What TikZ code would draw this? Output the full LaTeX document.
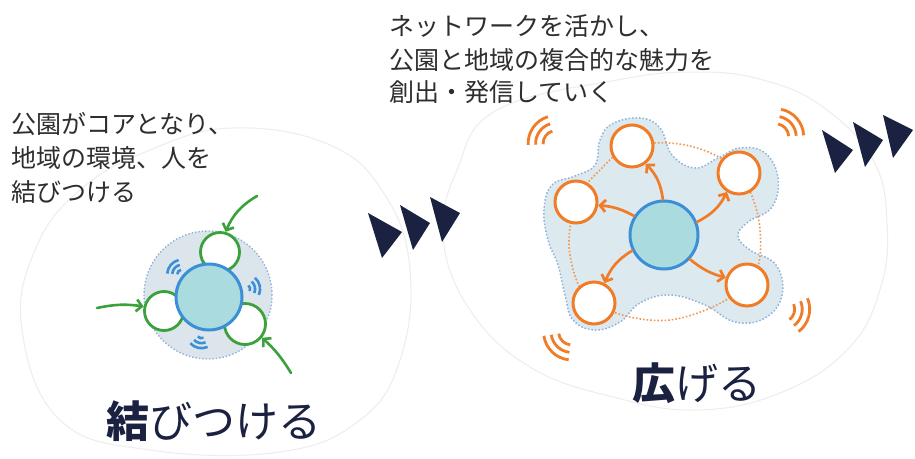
\documentclass[tikz,border=0pt]{standalone}
\usepackage{fontspec}
\newfontfamily\jp{Noto Sans CJK JP}
\usetikzlibrary{arrows.meta}
\definecolor{txt}{HTML}{2E2E2E}
\definecolor{navy}{HTML}{1B2140}
\definecolor{gr}{HTML}{3AA13C}
\definecolor{bl}{HTML}{3B8FD6}
\definecolor{blfill}{HTML}{A9DBDF}
\definecolor{halo}{HTML}{DDE5EC}
\definecolor{halodot}{HTML}{8FB1DD}
\definecolor{blobfill}{HTML}{DCE9EF}
\definecolor{org}{HTML}{F07C28}
\definecolor{faint}{HTML}{EDEDED}
\newcommand\wavesig[6]{%
  \foreach \rr in {#5}
    \draw[#4] ([shift={(#3-#6:\rr)}]#1,#2) arc[start angle=#3-#6, end angle=#3+#6, radius=\rr];}
\begin{document}
\begin{tikzpicture}[x=1pt,y=-1pt,
  body/.style={font=\jp\fontsize{25}{30}\selectfont, text=txt, inner sep=0, anchor=base west},
  title/.style={font=\jp\fontsize{43}{50}\selectfont, text=navy, inner sep=0},
  gcirc/.style={circle, draw=gr, line width=2.8pt, fill=white, minimum size=39pt, inner sep=0},
  bcirc/.style={circle, draw=bl, line width=3pt, fill=blfill, minimum size=66pt, inner sep=0},
  ocirc/.style={circle, draw=org, line width=3pt, fill=white, minimum size=42pt, inner sep=0},
  garrow/.style={draw=gr, line width=2.6pt, line cap=round, -{Straight Barb[length=5.5pt,width=12pt]}},
  oarrow/.style={draw=org, line width=2.7pt, line cap=round, -{Straight Barb[length=5.5pt,width=12pt]}},
  bwave/.style={draw=bl, line width=2.6pt},
  owave/.style={draw=org, line width=2.8pt},
  tri/.style={fill=navy},
  outline/.style={draw=faint, line width=1pt}
]
\useasboundingbox (0,0) rectangle (915,458);
\fill[white] (0,0) rectangle (915,458);

% faint background outlines
\draw[outline] plot[smooth cycle, tension=0.7] coordinates {(233,128) (330,145) (385,195) (410,270) (400,360) (360,420) (280,452) (150,450) (60,420) (22,330) (35,250) (80,190) (150,150)};
\draw[outline] plot[smooth cycle, tension=0.7] coordinates {(497,110) (617,80) (697,72) (763,80) (823,107) (873,160) (887,223) (880,290) (847,350) (780,393) (697,410) (613,397) (530,367) (470,310) (443,237) (457,170)};

% texts
\node[body] (l1) at (11,133) {公園がコアとなり、};
\node[body] (l2) at (11,167.5) {地域の環境、人を};
\node[body] (l3) at (11,201.5) {結びつける};
\node[body] (r1) at (389,35) {ネットワークを活かし、};
\node[body] (r2) at (389,69) {公園と地域の複合的な魅力を};
\node[body] (r3) at (389,101.5) {創出・発信していく};

\node[title] (tl) at (214,421) {{\bfseries 結}びつける};
\node[title] (tr) at (697,383) {{\bfseries 広}げる};

% triangles
\fill[tri] (368,213) -- (402,232) -- (382,258) -- cycle;
\fill[tri] (400,205) -- (430,223) -- (413,250) -- cycle;
\fill[tri] (430,197) -- (460,213) -- (442,242) -- cycle;
\fill[tri] (822,130) -- (853,150) -- (835,173) -- cycle;
\fill[tri] (853,122) -- (883,140) -- (865,167) -- cycle;
\fill[tri] (883,115) -- (913,130) -- (893,158) -- cycle;

% ---------- left diagram ----------
\node[circle, fill=halo, draw=halodot, dotted, line width=1.4pt, minimum size=128pt, inner sep=0] (halo) at (208,295) {};
\wavesig{182.2}{274.6}{-140}{bwave}{5,10,15}{36}
\wavesig{245.1}{289.1}{-13}{bwave}{5,10,15}{36}
\wavesig{201.5}{333.2}{102}{bwave}{5,10,15}{36}
\node[gcirc] (g1) at (220,252) {};
\node[gcirc] (g2) at (164,311) {};
\node[gcirc, minimum size=41pt] (g3) at (245,324) {};
\node[bcirc] (bl) at (209,297) {};
\coordinate (ga) at (257,196);
\coordinate (gb) at (97,308);
\coordinate (gc) at (291,373);
\draw[garrow] (ga) to[bend right=18] (g1);
\draw[garrow] (gb) to[bend left=10] (g2);
\draw[garrow] (gc) to[bend right=8] (g3);

% ---------- right diagram ----------
\def\blobpts{(600,140) (612,124) (640,118) (660,128) (672,155) (695,168) (718,158) (740,148) (765,153) (778,178) (772,207) (748,222) (738,236) (750,250) (776,265) (782,295) (765,318) (735,322) (705,305) (670,295) (640,303) (620,322) (595,330) (573,320) (565,295) (558,265) (548,240) (544,210) (552,185) (575,176) (595,165)}
\fill[blobfill] plot[smooth cycle, tension=0.7] coordinates {\blobpts};
\draw[halodot, dotted, line width=1.5pt] plot[smooth cycle, tension=0.7] coordinates {\blobpts};
\draw[org!80, dotted, line width=1.6pt] plot[smooth cycle, tension=0.6] coordinates {(632,146) (690,146) (739,173) (760,230) (747,285) (670,320) (594,303) (570,255) (576,202) (600,170)};

\wavesig{556.1}{143.5}{-145}{owave}{13,20.5,28}{38}
\wavesig{775.7}{136.8}{-41}{owave}{13,20.5,28}{38}
\wavesig{781.7}{309.2}{15}{owave}{13,20.5,28}{38}
\wavesig{571.6}{331.9}{134}{owave}{13,20.5,28}{38}

\node[ocirc] (o1) at (632,146) {};
\node[ocirc] (o2) at (576,202) {};
\node[ocirc] (o3) at (739,173) {};
\node[ocirc] (o4) at (594,303) {};
\node[ocirc] (o5) at (747,285) {};
\node[bcirc, minimum size=68pt] (bc) at (664,235) {};
\draw[oarrow] (bc) to[bend right=18] (o1);
\draw[oarrow] (bc) to[bend right=12] (o2);
\draw[oarrow] (bc) to[bend right=18] (o3);
\draw[oarrow] (bc) to[bend right=18] (o4);
\draw[oarrow] (bc) to[bend right=12] (o5);
\end{tikzpicture}
\end{document}
